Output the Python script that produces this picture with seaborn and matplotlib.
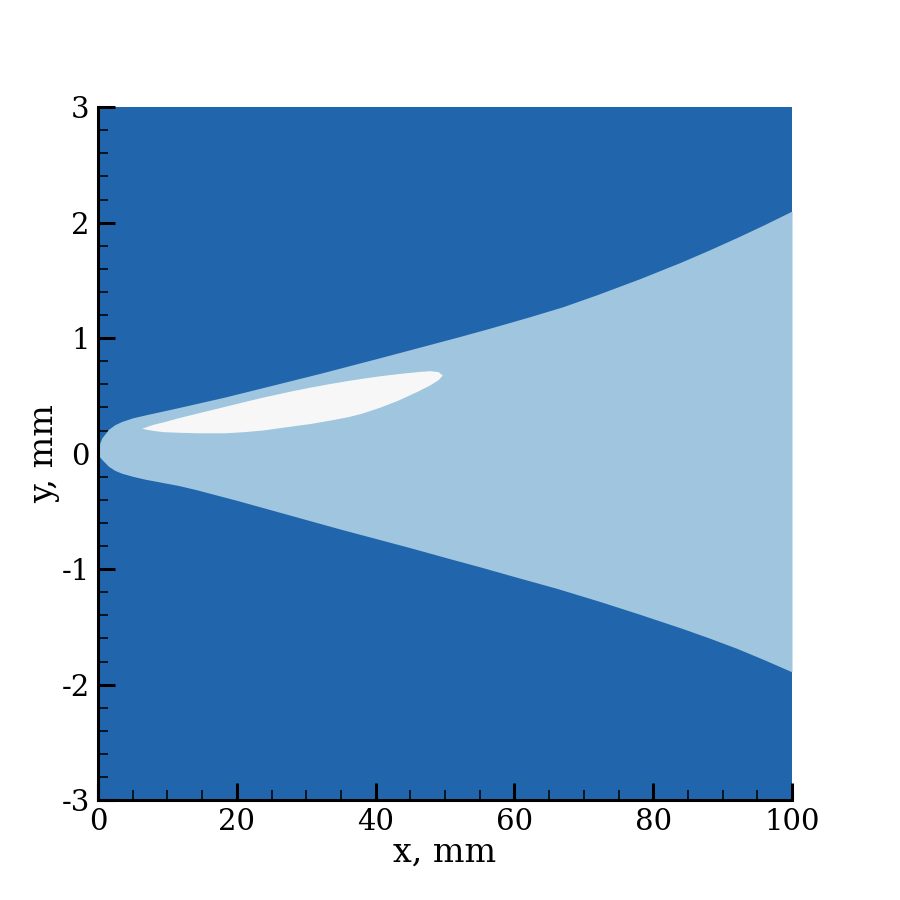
import numpy as np
import pandas as pd
import matplotlib
matplotlib.use("Agg")
import matplotlib.pyplot as plt
import seaborn as sns
from matplotlib.ticker import MultipleLocator

# Boundary of the light region
upper_x = [0, 0.1, 0.53, 1.5, 2.4, 3.4, 5, 6.8, 11.5, 18.3, 25, 32, 40.6, 44.5, 48, 52, 56, 62.2, 67, 72, 78, 83.9, 88, 92.1, 96, 100]
upper_y = [0.02, 0.07, 0.135, 0.21, 0.25, 0.278, 0.31, 0.335, 0.397, 0.49, 0.59, 0.695, 0.83, 0.892, 0.948, 1.012, 1.078, 1.185, 1.272, 1.378, 1.513, 1.655, 1.761, 1.872, 1.982, 2.10]
lower_x = [0, 0.1, 0.53, 1.5, 2.4, 3.4, 5, 6.8, 11.5, 14, 20, 29, 35, 40, 45, 50.7, 55, 60, 66, 72.3, 78, 84, 88, 92, 96, 100]
lower_y = [0.02, -0.02, -0.05, -0.11, -0.145, -0.17, -0.197, -0.222, -0.275, -0.31, -0.405, -0.555, -0.655, -0.735, -0.815, -0.91, -0.98, -1.065, -1.165, -1.28, -1.39, -1.51, -1.595, -1.685, -1.785, -1.89]

# White pocket inside the light region
pocket_x = [6.3, 7, 8, 9.4, 11.5, 14.2, 18.3, 21, 23.8, 28, 30.5, 33.4, 36, 38, 40.5, 43.1, 46, 47.8, 49, 49.6]
pocket_top = [0.22, 0.235, 0.255, 0.275, 0.31, 0.35, 0.41, 0.45, 0.49, 0.545, 0.575, 0.607, 0.633, 0.652, 0.673, 0.692, 0.71, 0.718, 0.71, 0.68]
pocket_bot = [0.22, 0.21, 0.20, 0.19, 0.185, 0.18, 0.18, 0.19, 0.205, 0.24, 0.26, 0.29, 0.32, 0.35, 0.40, 0.46, 0.54, 0.595, 0.64, 0.68]

DARK = "#2166ac"
LIGHT = "#9fc6de"
WHITE = "#f7f7f7"

sns.set_style("ticks")
plt.rcParams["font.family"] = ["DejaVu Serif"]
plt.rcParams["axes.unicode_minus"] = False
plt.rcParams["text.color"] = "black"
plt.rcParams["axes.labelcolor"] = "black"
plt.rcParams["xtick.color"] = "black"
plt.rcParams["ytick.color"] = "black"

fig = plt.figure(figsize=(9, 9), dpi=100)
ax = fig.add_axes([0.109, 0.111, 0.771, 0.770])
ax.set_facecolor(DARK)

# common x grid for the light band
xs = np.union1d(upper_x, lower_x)
band = pd.DataFrame({
    "x": xs,
    "top": np.interp(xs, upper_x, upper_y),
    "bot": np.interp(xs, lower_x, lower_y),
})
ax.fill_between(band["x"], band["bot"], band["top"], color=LIGHT, lw=0, zorder=1)
ax.fill_between(pocket_x, pocket_bot, pocket_top, color=WHITE, lw=0, zorder=2)

ax.set_xlim(0, 100)
ax.set_ylim(-3, 3)
ax.xaxis.set_major_locator(MultipleLocator(20))
ax.xaxis.set_minor_locator(MultipleLocator(5))
ax.yaxis.set_major_locator(MultipleLocator(1))
ax.yaxis.set_minor_locator(MultipleLocator(0.2))

sns.despine(ax=ax, top=True, right=True)
for side in ["left", "bottom"]:
    ax.spines[side].set_linewidth(2.2)
    ax.spines[side].set_color("black")
    ax.spines[side].set_zorder(5)

ax.tick_params(which="major", direction="in", length=12, width=2.2,
               labelsize=21, pad=6, color="black", labelcolor="black")
ax.tick_params(which="minor", direction="in", length=7, width=1.1, color="black")

ax.set_xlabel("x, mm", fontsize=24, labelpad=0)
ax.set_ylabel("y, mm", fontsize=24, labelpad=1)

fig.savefig("out.png", dpi=100)
